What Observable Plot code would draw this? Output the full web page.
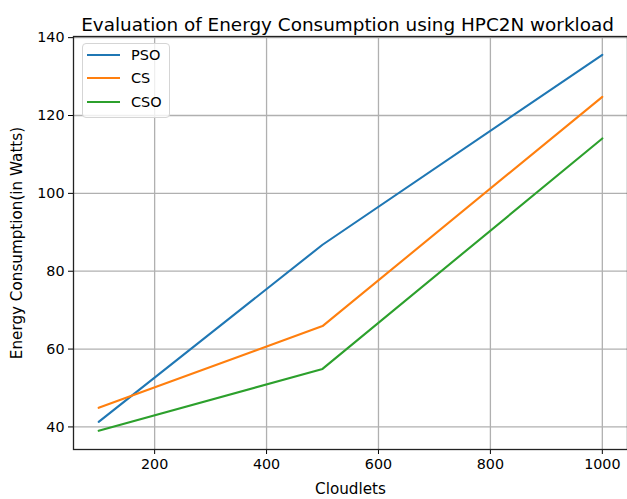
<!DOCTYPE html>
<html><head><meta charset="utf-8">
<script src="https://cdn.jsdelivr.net/npm/d3@7"></script>
<script src="https://cdn.jsdelivr.net/npm/@observablehq/plot@0.6"></script>
<style>
body{margin:0;background:#fff;font-family:"DejaVu Sans",sans-serif;}
#wrap{position:relative;width:627px;height:499px;overflow:hidden;}
#legend{position:absolute;left:82px;top:43px;width:88px;height:75px;background:rgba(255,255,255,0.8);border:1px solid #d5d5d5;border-radius:4px;box-sizing:border-box;font-size:14.5px;color:#000;}
.row{position:absolute;left:4px;height:20px;display:flex;align-items:center;}
.sw{width:33px;height:2px;margin-right:11px;}
</style></head>
<body><div id="wrap"></div>
<script>
const cloudlets = [100, 500, 1000];
const pso = [41.3, 86.8, 135.6];
const cs = [44.9, 65.9, 124.8];
const cso = [39.0, 54.9, 114.1];
const seriesNames = ["PSO", "CS", "CSO"];
const colors = ["#1f77b4", "#ff7f0e", "#2ca02c"];
const xTicks = [200, 400, 600, 800, 1000];
const yTicks = [40, 60, 80, 100, 120, 140];

const all = [pso, cs, cso];
const data = [];
all.forEach((vals, s) => vals.forEach((v, i) => data.push({series: seriesNames[s], x: cloudlets[i], y: v})));

const font = "DejaVu Sans";
const chart = Plot.plot({
  width: 627, height: 499,
  marginLeft: 73, marginRight: 0, marginTop: 36, marginBottom: 50,
  style: {fontFamily: font, fontSize: "14.3px", color: "#000", background: "#fff"},
  x: {domain: [55, 1045]},
  y: {domain: [34.2, 140.3]},
  color: {domain: seriesNames, range: colors},
  marks: [
    Plot.gridX(xTicks, {stroke: "#b0b0b0", strokeOpacity: 1, strokeWidth: 1.3}),
    Plot.gridY(yTicks, {stroke: "#b0b0b0", strokeOpacity: 1, strokeWidth: 1.3}),
    Plot.axisX(xTicks, {tickSize: 5, tickPadding: 4, tickFormat: d => String(d), fontSize: 14.3, label: null}),
    Plot.axisX({ticks: [], label: "Cloudlets", labelAnchor: "center", labelArrow: "none", labelOffset: 44, fontSize: 15.2}),
    Plot.axisY(yTicks, {tickSize: 5, tickPadding: 4, fontSize: 14.3, label: null}),
    Plot.axisY({ticks: [], label: "Energy Consumption(in Watts)", labelAnchor: "center", labelArrow: "none", labelOffset: 62, fontSize: 15.2}),
    Plot.line(data, {x: "x", y: "y", z: "series", stroke: "series", strokeWidth: 2.1}),
    Plot.frame({stroke: "#222", strokeWidth: 1.3}),
    Plot.text(["Evaluation of Energy Consumption using HPC2N workload"], {frameAnchor: "top", dy: -19, dx: -3, fontSize: 18.4, fill: "#000"})
  ]
});
const wrap = document.getElementById("wrap");
wrap.appendChild(chart);
const leg = document.createElement("div");
leg.id = "legend";
seriesNames.forEach((n, i) => {
  const r = document.createElement("div");
  r.className = "row";
  r.style.top = (1 + i * 23.4) + "px";
  r.innerHTML = `<span class="sw" style="background:${colors[i]}"></span><span>${n}</span>`;
  leg.appendChild(r);
});
wrap.appendChild(leg);
</script></body></html>
